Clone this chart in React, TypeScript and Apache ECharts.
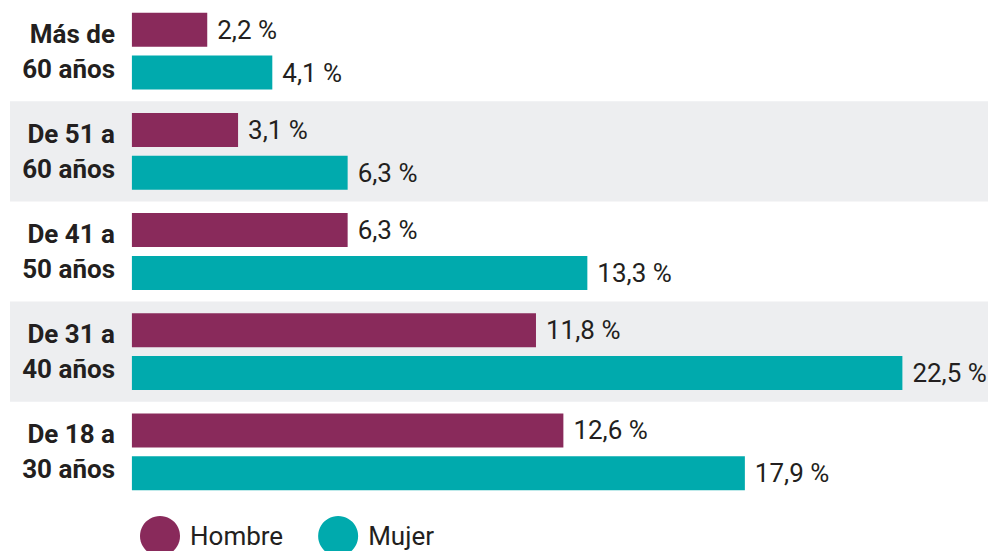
import React, { useEffect, useRef } from "react";
import * as echarts from "echarts";

const categories = ["Más de\n60 años", "De 51 a\n60 años", "De 41 a\n50 años", "De 31 a\n40 años", "De 18 a\n30 años"];
const hombre = [2.2, 3.1, 6.3, 11.8, 12.6];
const mujer = [4.1, 6.3, 13.3, 22.5, 17.9];
const seriesNames = ["Hombre", "Mujer"];
const colors = ["#892a5b", "#00aaad"];

const fmt = (v: number) => v.toFixed(1).replace(".", ",") + " %";

export default function App() {
  const ref = useRef<HTMLDivElement>(null);
  useEffect(() => {
    if (!ref.current) return;
    const chart = echarts.init(ref.current, undefined, { renderer: "svg" });
    const font = "Roboto, 'Noto Sans', sans-serif";
    const label = {
      show: true,
      position: "right" as const,
      distance: 10,
      fontSize: 26,
      fontFamily: font,
      color: "#231f20",
      formatter: (p: any) => fmt(p.value),
    };
    chart.setOption({
      animation: false,
      backgroundColor: "#ffffff",
      grid: { left: 10, right: 0, top: 1, bottom: 49, containLabel: false, outerBoundsMode: "none" },
      legend: {
        data: seriesNames,
        left: 135,
        top: 511,
        icon: "circle",
        itemWidth: 40,
        itemHeight: 40,
        itemGap: 35,
        textStyle: { fontSize: 26, lineHeight: 26, fontFamily: font, color: "#231f20", padding: [0, 0, 2, 5] },
      },
      xAxis: {
        type: "value",
        min: -3.56,
        max: 25,
        show: false,
      },
      yAxis: {
        type: "category",
        inverse: true,
        data: categories,
        offset: -122,
        axisLine: { show: false },
        axisTick: { show: false },
        splitArea: { show: true, areaStyle: { color: ["rgba(0,0,0,0)", "#edeef0"] } },
        axisLabel: {
          margin: 17,
          fontSize: 26,
          fontWeight: "bold",
          fontFamily: font,
          lineHeight: 35,
          align: "right",
          color: "#231f20",
        },
      },
      series: [
        {
          name: seriesNames[0],
          type: "bar",
          data: hombre,
          barWidth: 34,
          barGap: "26%",
          itemStyle: { color: colors[0] },
          label,
        },
        {
          name: seriesNames[1],
          type: "bar",
          data: mujer,
          barWidth: 34,
          barGap: "26%",
          itemStyle: { color: colors[1] },
          label,
        },
      ],
    });
    return () => chart.dispose();
  }, []);
  return <div ref={ref} style={{ width: 988, height: 551, position: "absolute", left: 0, top: 0 }} />;
}
